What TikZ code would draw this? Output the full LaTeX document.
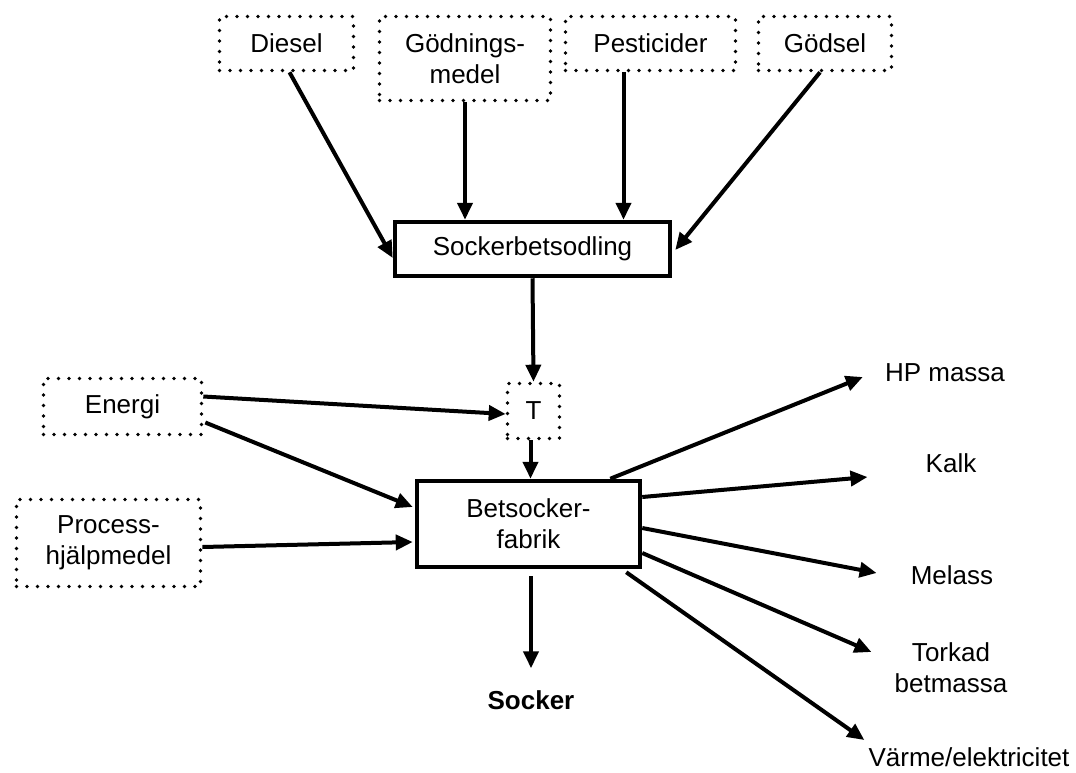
\documentclass[tikz,border=0pt]{standalone}
\usepackage{fontspec}
\setmainfont{Liberation Sans}
\usetikzlibrary{arrows.meta,calc}
\begin{document}
\begin{tikzpicture}[x=1pt,y=-1pt,
  every node/.style={font=\fontsize{26}{31}\selectfont, align=center},
  inbox/.style={draw, line width=3.6pt, dash pattern=on 0pt off 10.5pt, line cap=round, inner sep=0pt},
  procbox/.style={draw, line width=4.5pt, inner sep=0pt},
  outtext/.style={inner sep=0pt},
  flow/.style={line width=4pt, -{Triangle[length=17pt,width=15pt]}},
]
\useasboundingbox (0,0) rectangle (1076,772);

% inputs to cultivation
\node[inbox, minimum width=134pt, minimum height=54pt] (diesel) at (286.5,43.5) {Diesel};
\node[inbox, minimum width=171pt, minimum height=84pt] (godn) at (465,58.5) {Gödnings-\\medel};
\node[inbox, minimum width=170pt, minimum height=54pt] (pest) at (650.5,43.5) {Pesticider};
\node[inbox, minimum width=133pt, minimum height=54pt] (godsel) at (825,43.5) {Gödsel};

% main process steps
\node[procbox, minimum width=275pt, minimum height=54pt] (sbo) at (532.5,249) {Sockerbetsodling};
\node[inbox, minimum width=52pt, minimum height=55pt] (T) at (533.5,411) {T};
\node[procbox, minimum width=223pt, minimum height=86pt] (fabrik) at (528.5,524) {Betsocker-\\fabrik};

% inputs to the factory
\node[inbox, minimum width=158pt, minimum height=56pt] (energi) at (122.5,406.5) {Energi};
\node[inbox, minimum width=184pt, minimum height=87pt] (process) at (108.5,543) {Process-\\hjälpmedel};

% products
\node[outtext, font=\fontsize{26}{31}\selectfont\bfseries] (socker) at (531,700) {Socker};
\node[outtext] (hp) at (945,373) {HP massa};
\node[outtext] (kalk) at (951,463) {Kalk};
\node[outtext] (melass) at (952,575) {Melass};
\node[outtext] (torkad) at (951,668) {Torkad\\betmassa};
\node[outtext] (varme) at (969,757) {Värme/elektricitet};

% connector end points offset along box edges
\coordinate (pestout) at ($(pest.south)+(-27,0)$);
\coordinate (tout) at ($(T.south)+(-3,0)$);
\coordinate (fabout) at ($(fabrik.south)+(2.5,7)$);

% cultivation inputs
\draw[flow] ($(diesel.south)+(3,0)$) -- ($(sbo.west)+(0,9)$);
\draw[flow] (godn.south) -- (godn.south |- sbo.north);
\draw[flow] (pestout) -- (pestout |- sbo.north);
\draw[flow] ($(godsel.south)+(-5,0)$) -- ($(sbo.east)+(3,1)$);

% main chain
\draw[flow] (sbo.south) -- (T.north);
\draw[flow] (tout) -- (tout |- fabrik.north);
\draw[flow] (fabout) -- ($(fabout |- socker.north)+(0,-22)$);

% factory inputs
\draw[flow] ($(energi.east)+(0,-10)$) -- ($(T.west)+(0,3)$);
\draw[flow] ($(energi.east)+(2,16)$) -- ($(fabrik.west)+(-2,-17)$);
\draw[flow] ($(process.east)+(0,4)$) -- ($(fabrik.west)+(-2,18)$);

% factory outputs
\draw[flow] ($(fabrik.north east)+(-32,0)$) -- ($(hp.west)+(-22,4)$);
\draw[flow] ($(fabrik.east)+(0,-27)$) -- ($(kalk.west)+(-58,14)$);
\draw[flow] ($(fabrik.east)+(0,4)$) -- ($(melass.west)+(-34,-2)$);
\draw[flow] ($(fabrik.east)+(0,29)$) -- ($(torkad.west)+(-23,-16)$);
\draw[flow] ($(fabrik.south east)+(-16,3)$) -- ($(varme.west)+(-4,-17)$);
\end{tikzpicture}
\end{document}
